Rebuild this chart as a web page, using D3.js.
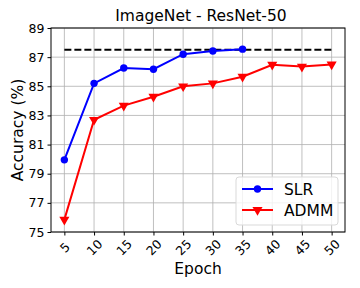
<!DOCTYPE html>
<html>
<head>
<meta charset="utf-8">
<script src="https://cdn.jsdelivr.net/npm/d3@7"></script>
<style>
  body { margin: 0; background: #fff; }
  text { font-family: "DejaVu Sans", sans-serif; }
</style>
</head>
<body>
<main></main>
<script>
// values
const epochs = [5, 10, 15, 20, 25, 30, 35, 40, 45, 50];
const slrEpochs = [5, 10, 15, 20, 25, 30, 35];
const slrAcc = [79.95, 85.2, 86.25, 86.17, 87.2, 87.42, 87.55];
const admmAcc = [75.85, 82.7, 83.67, 84.28, 85.0, 85.2, 85.66, 86.48, 86.35, 86.5];
const baseline = 87.5;
const yTicks = [75, 77, 79, 81, 83, 85, 87, 89];

const width = 360, height = 288;
const mLeft = 51, mRight = 345, mTop = 28, mBottom = 232;

const svg = d3.select("main")
  .append("svg")
  .attr("width", width)
  .attr("height", height);

const xScale = d3.scaleLinear()
  .domain([2.75, 52.25])
  .range([mLeft, mRight]);

const yScale = d3.scaleLinear()
  .domain([75, 89])
  .range([mBottom, mTop]);

// grid
svg.append("g")
  .selectAll("line")
  .data(epochs)
  .enter()
  .append("line")
  .attr("x1", d => xScale(d)).attr("x2", d => xScale(d))
  .attr("y1", mTop).attr("y2", mBottom)
  .attr("stroke", "#b0b0b0").attr("stroke-width", 0.8);

svg.append("g")
  .selectAll("line")
  .data(yTicks)
  .enter()
  .append("line")
  .attr("x1", mLeft).attr("x2", mRight)
  .attr("y1", d => yScale(d)).attr("y2", d => yScale(d))
  .attr("stroke", "#b0b0b0").attr("stroke-width", 0.8);

// axes
const x_axis = d3.axisBottom(xScale).tickValues(epochs).tickSize(3.5).tickPadding(3);
const gx = svg.append("g")
  .attr("transform", "translate(0," + mBottom + ")")
  .call(x_axis);
gx.select(".domain").remove();
gx.selectAll("text")
  .attr("font-size", 12.5)
  .attr("fill", "#000")
  .attr("text-anchor", "middle")
  .attr("y", 0)
  .attr("dy", "0.35em")
  .attr("transform", "translate(0,15.5) rotate(-45)");

const y_axis = d3.axisLeft(yScale).tickValues(yTicks).tickSize(3.5).tickPadding(3);
const gy = svg.append("g")
  .attr("transform", "translate(" + mLeft + ",0)")
  .call(y_axis);
gy.select(".domain").remove();
gy.selectAll("text").attr("font-size", 12.5).attr("fill", "#000");

// frame
svg.append("rect")
  .attr("x", mLeft).attr("y", mTop)
  .attr("width", mRight - mLeft).attr("height", mBottom - mTop)
  .attr("fill", "none").attr("stroke", "#000").attr("stroke-width", 1);

// baseline
svg.append("line")
  .attr("x1", xScale(5)).attr("x2", xScale(50))
  .attr("y1", yScale(baseline)).attr("y2", yScale(baseline))
  .attr("stroke", "#000").attr("stroke-width", 2)
  .attr("stroke-dasharray", "7,3");

const line = d3.line().x(d => xScale(d[0])).y(d => yScale(d[1]));

const slr = slrEpochs.map((e, i) => [e, slrAcc[i]]);
const admm = epochs.map((e, i) => [e, admmAcc[i]]);

svg.append("path").datum(admm)
  .attr("d", line).attr("fill", "none")
  .attr("stroke", "red").attr("stroke-width", 2);

const tri = d3.symbol().type(d3.symbolTriangle).size(44);
svg.append("g")
  .selectAll("path")
  .data(admm)
  .enter()
  .append("path")
  .attr("d", tri)
  .attr("transform", d => "translate(" + xScale(d[0]) + "," + yScale(d[1]) + ") rotate(180)")
  .attr("fill", "red");

svg.append("path").datum(slr)
  .attr("d", line).attr("fill", "none")
  .attr("stroke", "blue").attr("stroke-width", 2);

svg.append("g")
  .selectAll("circle")
  .data(slr)
  .enter()
  .append("circle")
  .attr("cx", d => xScale(d[0]))
  .attr("cy", d => yScale(d[1]))
  .attr("r", 3.7)
  .attr("fill", "blue");

// title and labels
svg.append("text")
  .attr("x", (mLeft + mRight) / 2 + 3).attr("y", 21)
  .attr("text-anchor", "middle").attr("font-size", 15.5)
  .text("ImageNet - ResNet-50");

svg.append("text")
  .attr("x", (mLeft + mRight) / 2).attr("y", 274)
  .attr("text-anchor", "middle").attr("font-size", 15.5)
  .text("Epoch");

svg.append("text")
  .attr("transform", "translate(23," + (mTop + mBottom) / 2 + ") rotate(-90)")
  .attr("text-anchor", "middle").attr("font-size", 15.5)
  .text("Accuracy (%)");

// legend
const lg = svg.append("g");
lg.append("rect")
  .attr("x", 236).attr("y", 177)
  .attr("width", 102).attr("height", 48)
  .attr("rx", 3)
  .attr("fill", "#fff").attr("fill-opacity", 0.8)
  .attr("stroke", "#d9d9d9");

const legendItems = [
  { name: "SLR", color: "blue", y: 189 },
  { name: "ADMM", color: "red", y: 210 }
];
legendItems.forEach(item => {
  lg.append("line")
    .attr("x1", 242).attr("x2", 273)
    .attr("y1", item.y).attr("y2", item.y)
    .attr("stroke", item.color).attr("stroke-width", 2);
  if (item.name === "SLR") {
    lg.append("circle").attr("cx", 257.5).attr("cy", item.y).attr("r", 3.7).attr("fill", item.color);
  } else {
    lg.append("path").attr("d", tri)
      .attr("transform", "translate(257.5," + item.y + ") rotate(180)")
      .attr("fill", item.color);
  }
  lg.append("text")
    .attr("x", 284).attr("y", item.y + 5.5)
    .attr("font-size", 15.5)
    .text(item.name);
});
</script>
</body>
</html>
